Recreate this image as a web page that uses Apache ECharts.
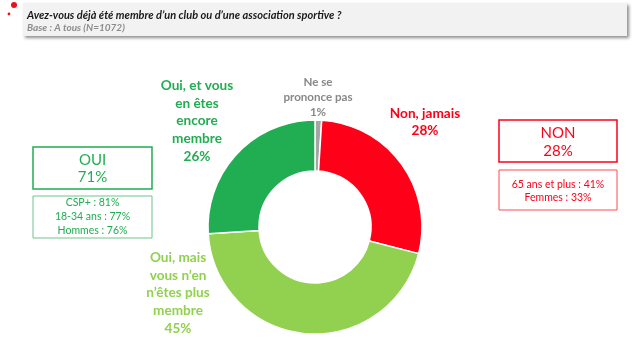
<!DOCTYPE html>
<html>
<head>
<meta charset="utf-8">
<script src="https://cdn.jsdelivr.net/npm/echarts@6/dist/echarts.min.js"></script>
<style>
html,body{margin:0;padding:0;background:#fff;}
#chart{width:640px;height:355px;}
</style>
</head>
<body>
<div id="chart"></div>
<script>
// ---- data ----
var titleText = "Avez-vous déjà été membre d’un club ou d’une association sportive ?";
var subtitleText = "Base : A tous (N=1072)";
var categories = [
  "Ne se\nprononce pas",
  "Non, jamais",
  "Oui, mais\nvous n’en\nn’êtes plus\nmembre",
  "Oui, et vous\nen êtes\nencore\nmembre"
];
var values = [1, 28, 45, 26];
var ouiLabel = "OUI";
var ouiTotal = 71;
var ouiDetailNames = ["CSP+", "18-34 ans", "Hommes"];
var ouiDetailValues = [81, 77, 76];
var nonLabel = "NON";
var nonTotal = 28;
var nonDetailNames = ["65 ans et plus", "Femmes"];
var nonDetailValues = [41, 33];

// ---- styles ----
var sliceColors = ["#a5a5a5", "#fe0018", "#92d050", "#21ad52"];
var labelColors = ["#888888", "#fe0018", "#92d050", "#21ad52"];
var labelSizes = [11.6, 13.6, 13.6, 13.6];
var labelLH = [15, 17.7, 17.7, 17.7];
var labelPos = [[318, 97.5], [425, 122], [178, 293], [197, 121]];
var FONT = "Lato, 'Open Sans', sans-serif";

var chart = echarts.init(document.getElementById('chart'), null, {renderer: 'canvas'});

var pieData = categories.map(function (c, i) {
  return {
    name: c,
    value: values[i],
    itemStyle: {color: sliceColors[i]},
    label: {color: labelColors[i], fontSize: labelSizes[i], lineHeight: labelLH[i]}
  };
});

function detailText(names, vals) {
  return names.map(function (n, i) { return n + " : " + vals[i] + "%"; }).join("\n");
}

var option = {
  animation: false,
  backgroundColor: '#ffffff',
  series: [{
    type: 'pie',
    center: [315, 227],
    radius: [56, 107],
    startAngle: 90,
    clockwise: true,
    avoidLabelOverlap: false,
    itemStyle: {borderColor: '#ffffff', borderWidth: 1.5},
    label: {
      show: true,
      position: 'outside',
      fontFamily: FONT,
      fontWeight: 'bold',
      align: 'center',
      formatter: function (p) { return p.name + "\n" + p.value + "%"; }
    },
    labelLine: {show: false},
    labelLayout: function (params) {
      var p = labelPos[params.dataIndex];
      return {x: p[0], y: p[1], align: 'center', verticalAlign: 'middle'};
    },
    emphasis: {disabled: true},
    data: pieData
  }],
  graphic: [
    // title box
    {type: 'rect', shape: {x: 23, y: 3, width: 604, height: 33},
     style: {fill: '#f2f2f2', shadowBlur: 3, shadowOffsetX: 2, shadowOffsetY: 2, shadowColor: 'rgba(0,0,0,0.45)'}, z: 1},
    {type: 'circle', shape: {cx: 14, cy: 5, r: 3}, style: {fill: '#e8141b'}},
    {type: 'circle', shape: {cx: 9, cy: 14, r: 1.4}, style: {fill: '#e8141b'}},
    {type: 'text', x: 27, y: 15, z: 2,
     style: {text: titleText, font: "italic bold 11px Lato, sans-serif", fill: '#1a1a1a', verticalAlign: 'middle'}},
    {type: 'text', x: 27, y: 27.5, z: 2,
     style: {text: subtitleText, font: "italic bold 10px Lato, sans-serif", fill: '#8c8c8c', verticalAlign: 'middle'}},
    // OUI boxes
    {type: 'rect', shape: {x: 33, y: 147, width: 119, height: 42},
     style: {fill: '#fff', stroke: '#21ad52', lineWidth: 1.5}},
    {type: 'text', x: 92.5, y: 168.5,
     style: {text: ouiLabel + "\n" + ouiTotal + "%", font: "15px " + FONT, fill: '#21ad52', align: 'center', verticalAlign: 'middle', lineHeight: 17}},
    {type: 'rect', shape: {x: 33, y: 196, width: 119, height: 42},
     style: {fill: '#fff', stroke: '#6cc48a', lineWidth: 1}},
    {type: 'text', x: 92.5, y: 217,
     style: {text: detailText(ouiDetailNames, ouiDetailValues), font: "10.5px " + FONT, fill: '#21ad52', align: 'center', verticalAlign: 'middle', lineHeight: 14}},
    // NON boxes
    {type: 'rect', shape: {x: 499, y: 120, width: 118, height: 42},
     style: {fill: '#fff', stroke: '#fe0018', lineWidth: 1.5}},
    {type: 'text', x: 558, y: 142,
     style: {text: nonLabel + "\n" + nonTotal + "%", font: "15px " + FONT, fill: '#fe0018', align: 'center', verticalAlign: 'middle', lineHeight: 18}},
    {type: 'rect', shape: {x: 499, y: 170, width: 118, height: 40},
     style: {fill: '#fff', stroke: '#fe4a55', lineWidth: 1}},
    {type: 'text', x: 558, y: 191.5,
     style: {text: detailText(nonDetailNames, nonDetailValues), font: "10.5px " + FONT, fill: '#fe0018', align: 'center', verticalAlign: 'middle', lineHeight: 13}}
  ]
};
chart.setOption(option);
</script>
</body>
</html>
